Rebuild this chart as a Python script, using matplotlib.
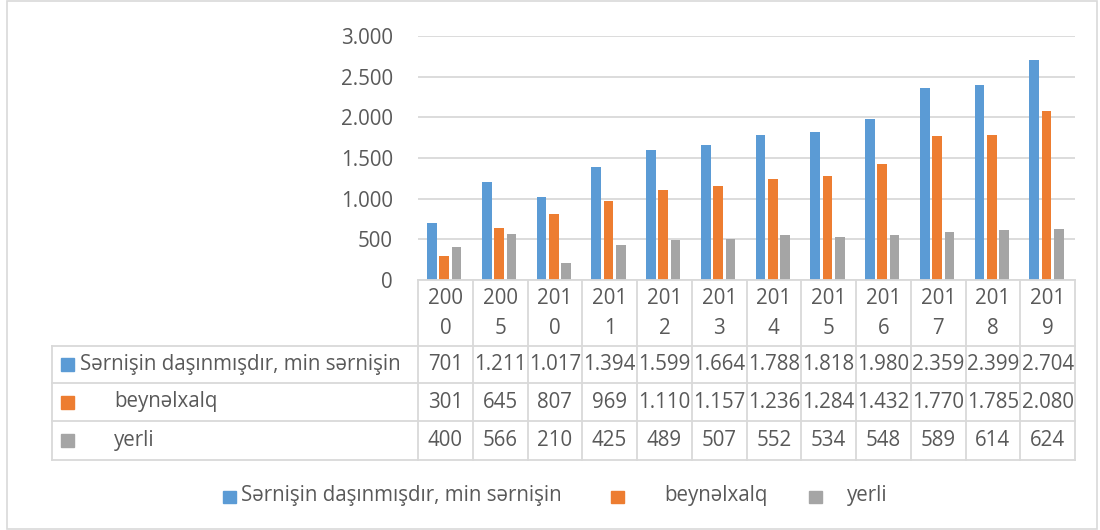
import matplotlib
matplotlib.use("Agg")
import matplotlib.pyplot as plt
from matplotlib.patches import Rectangle
from matplotlib.lines import Line2D
import numpy as np

plt.rcParams['font.family'] = ['Open Sans', 'DejaVu Sans']

years = ['2000', '2005', '2010', '2011', '2012', '2013', '2014', '2015', '2016', '2017', '2018', '2019']
total = [701, 1211, 1017, 1394, 1599, 1664, 1788, 1818, 1980, 2359, 2399, 2704]
international = [301, 645, 807, 969, 1110, 1157, 1236, 1284, 1432, 1770, 1785, 2080]
domestic = [400, 566, 210, 425, 489, 507, 552, 534, 548, 589, 614, 624]
series_names = ['Sərnişin daşınmışdır, min sərnişin', 'beynəlxalq', 'yerli']
colors = ['#5B9BD5', '#ED7D31', '#A5A5A5']
yticks = [0, 500, 1000, 1500, 2000, 2500, 3000]

W, H = 1100, 530
TXT = '#595959'
GRID = '#D9D9D9'
FS = 14.8


def fx(x):
    return x / W


def fy(y):
    return 1 - y / H


def fmt(v):
    return f"{v:,}".replace(',', '.')


fig = plt.figure(figsize=(W / 100, H / 100), dpi=100)

# plot area (pixel layout)
left, right, top, base = 418, 1075, 36, 280
ax = fig.add_axes([fx(left), fy(base), (right - left) / W, (base - top) / H])

x = np.arange(len(years))
width = 0.175
for i, vals in enumerate([total, international, domestic]):
    ax.bar(x + (i - 1) * 0.225 - 0.02, vals, width, color=colors[i], zorder=2)

ax.set_xlim(-0.5, len(years) - 0.5)
ax.set_ylim(0, 3000)
ax.set_yticks(yticks)
ax.set_yticklabels([fmt(v) for v in yticks], fontsize=FS, color=TXT)
ax.tick_params(axis='y', length=0, pad=18)
ax.set_xticks([])
ax.grid(axis='y', color=GRID, lw=1.3, zorder=0)
ax.set_axisbelow(True)
for s in ax.spines.values():
    s.set_visible(False)

# data table under the chart
col_w = (right - left) / len(years)
rows_y = [base, 346, 383, 421, 460]
head_x = 52

def hline(x0, x1, y):
    fig.add_artist(Line2D([fx(x0), fx(x1)], [fy(y), fy(y)], color=GRID, lw=1.3))

def vline(xx, y0, y1):
    fig.add_artist(Line2D([fx(xx), fx(xx)], [fy(y0), fy(y1)], color=GRID, lw=1.3))

hline(left, right, rows_y[0])
for yy in rows_y[1:]:
    hline(head_x, right, yy)
for k in range(len(years) + 1):
    vline(left + k * col_w, rows_y[0], rows_y[-1])
vline(head_x, rows_y[1], rows_y[-1])

for k, yr in enumerate(years):
    cx = left + (k + 0.5) * col_w
    fig.text(fx(cx), fy(298), yr[:3], ha='center', va='center', fontsize=FS, color=TXT)
    fig.text(fx(cx), fy(329), yr[3:], ha='center', va='center', fontsize=FS, color=TXT)

label_x = [80, 114, 114]
for r, vals in enumerate([total, international, domestic]):
    cy = (rows_y[r + 1] + rows_y[r + 2]) / 2
    fig.add_artist(Rectangle((fx(61), fy(cy + 6.5)), 13 / W, 13 / H, color=colors[r],
                             transform=fig.transFigure))
    fig.text(fx(label_x[r]), fy(cy), series_names[r], ha='left', va='center',
             fontsize=FS, color=TXT)
    for k, v in enumerate(vals):
        cx = left + (k + 0.5) * col_w
        fig.text(fx(cx), fy(cy), fmt(v), ha='center', va='center', fontsize=FS, color=TXT)

# legend
leg_sq = [223, 611, 809]
leg_tx = [241, 664, 847]
for i in range(3):
    fig.add_artist(Rectangle((fx(leg_sq[i]), fy(503)), 12.5 / W, 12.5 / H, color=colors[i],
                             transform=fig.transFigure))
    fig.text(fx(leg_tx[i]), fy(496), series_names[i], ha='left', va='center',
             fontsize=FS, color=TXT)

# outer frame
fig.add_artist(Rectangle((fx(7), fy(529)), (1097 - 7) / W, 528 / H, fill=False,
                         edgecolor=GRID, lw=1.2, transform=fig.transFigure))

fig.savefig('out.png', dpi=100)
